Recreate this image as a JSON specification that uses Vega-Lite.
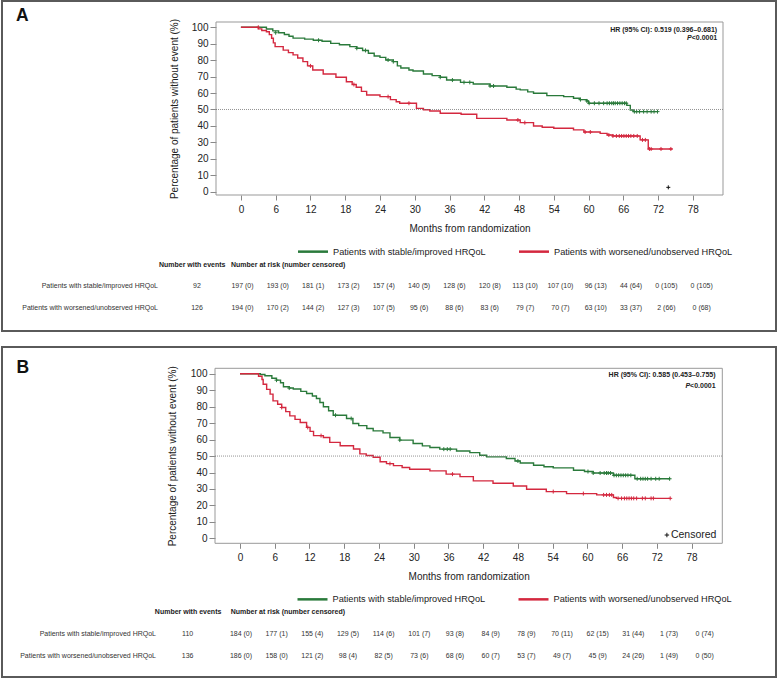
{
 "$schema": "https://vega.github.io/schema/vega-lite/v6.json",
 "padding": {"left": 1, "top": 0, "right": 0, "bottom": 0},
 "config": {"font": "Liberation Sans", "concat": {"spacing": 14}, "text": {"font": "Liberation Sans"}, "axis": {"labelOverlap": false, "labelBound": false}},
 "datasets": {
  "km": [
   {"p":"A","g":"S","m":0,"s":100},{"p":"A","g":"S","m":4.4,"s":98.9},{"p":"A","g":"S","m":5.5,"s":97.8},{"p":"A","g":"S","m":6.5,"s":96.7},{"p":"A","g":"S","m":7.5,"s":95.6},{"p":"A","g":"S","m":8.3,"s":94.5},{"p":"A","g":"S","m":9.0,"s":93.4},{"p":"A","g":"S","m":11,"s":92.8},{"p":"A","g":"S","m":12.5,"s":92.1},{"p":"A","g":"S","m":14,"s":91.5},{"p":"A","g":"S","m":15.5,"s":90.2},{"p":"A","g":"S","m":17,"s":89.4},{"p":"A","g":"S","m":18.8,"s":88.2},{"p":"A","g":"S","m":20,"s":87.2},{"p":"A","g":"S","m":21,"s":85.9},{"p":"A","g":"S","m":22,"s":84.2},{"p":"A","g":"S","m":23,"s":82.5},{"p":"A","g":"S","m":24,"s":81.7},{"p":"A","g":"S","m":25,"s":80.1},{"p":"A","g":"S","m":26.3,"s":79.1},{"p":"A","g":"S","m":27,"s":76.5},{"p":"A","g":"S","m":27.6,"s":75.2},{"p":"A","g":"S","m":29,"s":74},{"p":"A","g":"S","m":29.7,"s":73.4},{"p":"A","g":"S","m":31.5,"s":71.6},{"p":"A","g":"S","m":33,"s":70.6},{"p":"A","g":"S","m":34.4,"s":69.6},{"p":"A","g":"S","m":35.5,"s":67.9},{"p":"A","g":"S","m":37.9,"s":66.5},{"p":"A","g":"S","m":40.1,"s":65.5},{"p":"A","g":"S","m":43,"s":64.3},{"p":"A","g":"S","m":45.9,"s":63.5},{"p":"A","g":"S","m":47.5,"s":62.4},{"p":"A","g":"S","m":48.2,"s":61.9},{"p":"A","g":"S","m":49.5,"s":60.7},{"p":"A","g":"S","m":50.5,"s":59.9},{"p":"A","g":"S","m":52.8,"s":58.4},{"p":"A","g":"S","m":55.7,"s":57.8},{"p":"A","g":"S","m":57.4,"s":56.8},{"p":"A","g":"S","m":58.5,"s":56.0},{"p":"A","g":"S","m":59.7,"s":55.2},{"p":"A","g":"S","m":60,"s":53.8},{"p":"A","g":"S","m":66.6,"s":52.5},{"p":"A","g":"S","m":67.2,"s":49.7},{"p":"A","g":"S","m":67.7,"s":48.7},{"p":"A","g":"S","m":71.9,"s":48.7},
   {"p":"A","g":"W","m":0,"s":100},{"p":"A","g":"W","m":3.0,"s":99},{"p":"A","g":"W","m":3.6,"s":98},{"p":"A","g":"W","m":4.4,"s":97.3},{"p":"A","g":"W","m":4.9,"s":95.5},{"p":"A","g":"W","m":5.3,"s":93.3},{"p":"A","g":"W","m":5.6,"s":90.5},{"p":"A","g":"W","m":5.9,"s":88.2},{"p":"A","g":"W","m":7.3,"s":86.1},{"p":"A","g":"W","m":8.2,"s":84.6},{"p":"A","g":"W","m":9.0,"s":83.2},{"p":"A","g":"W","m":9.8,"s":81.3},{"p":"A","g":"W","m":10.7,"s":79.1},{"p":"A","g":"W","m":11.5,"s":76.5},{"p":"A","g":"W","m":12.4,"s":74},{"p":"A","g":"W","m":14.2,"s":71.6},{"p":"A","g":"W","m":16.4,"s":69.6},{"p":"A","g":"W","m":18.2,"s":66.9},{"p":"A","g":"W","m":19.2,"s":65.2},{"p":"A","g":"W","m":19.9,"s":63.5},{"p":"A","g":"W","m":20.8,"s":61},{"p":"A","g":"W","m":21.7,"s":58.8},{"p":"A","g":"W","m":24,"s":57.8},{"p":"A","g":"W","m":25.8,"s":56.0},{"p":"A","g":"W","m":26.8,"s":54.7},{"p":"A","g":"W","m":27.4,"s":53.8},{"p":"A","g":"W","m":30.3,"s":50.7},{"p":"A","g":"W","m":31.5,"s":49.8},{"p":"A","g":"W","m":32.6,"s":49.1},{"p":"A","g":"W","m":34.4,"s":47.7},{"p":"A","g":"W","m":38,"s":47.1},{"p":"A","g":"W","m":40.7,"s":44.6},{"p":"A","g":"W","m":45.9,"s":43.6},{"p":"A","g":"W","m":48.2,"s":42.0},{"p":"A","g":"W","m":50.5,"s":40.0},{"p":"A","g":"W","m":52,"s":39.2},{"p":"A","g":"W","m":54,"s":38.6},{"p":"A","g":"W","m":57.4,"s":37.6},{"p":"A","g":"W","m":59.2,"s":36.3},{"p":"A","g":"W","m":62,"s":35.5},{"p":"A","g":"W","m":63.2,"s":34.5},{"p":"A","g":"W","m":64.2,"s":33.9},{"p":"A","g":"W","m":68.9,"s":31.5},{"p":"A","g":"W","m":70.3,"s":26.0},{"p":"A","g":"W","m":74.5,"s":26.0},
   {"p":"B","g":"S","m":0,"s":100},{"p":"B","g":"S","m":3.5,"s":99.5},{"p":"B","g":"S","m":4.3,"s":98.8},{"p":"B","g":"S","m":5.5,"s":97.3},{"p":"B","g":"S","m":6.3,"s":96.1},{"p":"B","g":"S","m":7,"s":94.5},{"p":"B","g":"S","m":7.5,"s":92.1},{"p":"B","g":"S","m":8.5,"s":91.3},{"p":"B","g":"S","m":9.2,"s":90.7},{"p":"B","g":"S","m":10.5,"s":89.3},{"p":"B","g":"S","m":11.5,"s":88},{"p":"B","g":"S","m":12.5,"s":86.5},{"p":"B","g":"S","m":13.2,"s":85},{"p":"B","g":"S","m":13.8,"s":82.5},{"p":"B","g":"S","m":14.4,"s":79.9},{"p":"B","g":"S","m":15.3,"s":77.5},{"p":"B","g":"S","m":16.1,"s":74.8},{"p":"B","g":"S","m":18.4,"s":72.8},{"p":"B","g":"S","m":19.5,"s":69.8},{"p":"B","g":"S","m":20.5,"s":68.5},{"p":"B","g":"S","m":21.9,"s":66.7},{"p":"B","g":"S","m":23,"s":65.3},{"p":"B","g":"S","m":24.7,"s":64.1},{"p":"B","g":"S","m":25.9,"s":61.3},{"p":"B","g":"S","m":27.6,"s":59.7},{"p":"B","g":"S","m":29.9,"s":57.6},{"p":"B","g":"S","m":31.5,"s":56.2},{"p":"B","g":"S","m":32.8,"s":55.2},{"p":"B","g":"S","m":34.5,"s":54.2},{"p":"B","g":"S","m":37.4,"s":53.1},{"p":"B","g":"S","m":39.7,"s":52.1},{"p":"B","g":"S","m":41.4,"s":50.5},{"p":"B","g":"S","m":42.6,"s":49.5},{"p":"B","g":"S","m":46,"s":48.5},{"p":"B","g":"S","m":47.5,"s":47},{"p":"B","g":"S","m":48.4,"s":45.8},{"p":"B","g":"S","m":50.7,"s":44.4},{"p":"B","g":"S","m":52.5,"s":43.5},{"p":"B","g":"S","m":54.1,"s":42.8},{"p":"B","g":"S","m":57.6,"s":41.4},{"p":"B","g":"S","m":59.5,"s":40.6},{"p":"B","g":"S","m":61,"s":39.7},{"p":"B","g":"S","m":64.5,"s":38.3},{"p":"B","g":"S","m":68.2,"s":36.2},{"p":"B","g":"S","m":74.3,"s":36.2},
   {"p":"B","g":"W","m":0,"s":100},{"p":"B","g":"W","m":3.2,"s":98.5},{"p":"B","g":"W","m":3.8,"s":96.5},{"p":"B","g":"W","m":4.0,"s":93.6},{"p":"B","g":"W","m":4.6,"s":90.5},{"p":"B","g":"W","m":5.2,"s":87.6},{"p":"B","g":"W","m":5.7,"s":83.5},{"p":"B","g":"W","m":6.5,"s":81.5},{"p":"B","g":"W","m":7.2,"s":79.5},{"p":"B","g":"W","m":7.9,"s":77},{"p":"B","g":"W","m":8.6,"s":74.4},{"p":"B","g":"W","m":9.5,"s":72.3},{"p":"B","g":"W","m":10.4,"s":70.4},{"p":"B","g":"W","m":11.5,"s":67.4},{"p":"B","g":"W","m":12.1,"s":65},{"p":"B","g":"W","m":12.7,"s":62.4},{"p":"B","g":"W","m":14.4,"s":61.3},{"p":"B","g":"W","m":15.5,"s":58.3},{"p":"B","g":"W","m":17.3,"s":56.3},{"p":"B","g":"W","m":19.6,"s":54.3},{"p":"B","g":"W","m":20.7,"s":51.3},{"p":"B","g":"W","m":21.8,"s":50.3},{"p":"B","g":"W","m":23.0,"s":49.3},{"p":"B","g":"W","m":24.2,"s":46.5},{"p":"B","g":"W","m":25.3,"s":45.4},{"p":"B","g":"W","m":26.5,"s":44.2},{"p":"B","g":"W","m":28,"s":43.0},{"p":"B","g":"W","m":29.3,"s":42.0},{"p":"B","g":"W","m":32.8,"s":41.0},{"p":"B","g":"W","m":35.6,"s":39.0},{"p":"B","g":"W","m":38,"s":37.5},{"p":"B","g":"W","m":40.3,"s":34.9},{"p":"B","g":"W","m":43.7,"s":33.5},{"p":"B","g":"W","m":47.2,"s":31.8},{"p":"B","g":"W","m":49.5,"s":29.8},{"p":"B","g":"W","m":52.9,"s":28.4},{"p":"B","g":"W","m":56.4,"s":27.2},{"p":"B","g":"W","m":61.6,"s":26.4},{"p":"B","g":"W","m":64.5,"s":24.8},{"p":"B","g":"W","m":65,"s":24.3},{"p":"B","g":"W","m":74.3,"s":24.3}
  ],
  "cens": [
   {"p":"A","g":"S","m":6.0,"s":96.7},{"p":"A","g":"S","m":13.4,"s":92.1},{"p":"A","g":"S","m":20,"s":87.2},{"p":"A","g":"S","m":21.5,"s":85.9},{"p":"A","g":"S","m":25.4,"s":80.1},{"p":"A","g":"S","m":26.3,"s":79.1},{"p":"A","g":"S","m":34.4,"s":69.6},{"p":"A","g":"S","m":36.5,"s":67.9},{"p":"A","g":"S","m":38.5,"s":66.5},{"p":"A","g":"S","m":39.5,"s":66.5},{"p":"A","g":"S","m":43,"s":64.3},{"p":"A","g":"S","m":43.6,"s":64.3},{"p":"A","g":"S","m":58.6,"s":56.0},{"p":"A","g":"S","m":59.7,"s":55.2},{"p":"A","g":"S","m":60.1,"s":53.8},{"p":"A","g":"S","m":61,"s":53.8},{"p":"A","g":"S","m":61.8,"s":53.8},{"p":"A","g":"S","m":62.6,"s":53.8},{"p":"A","g":"S","m":63.2,"s":53.8},{"p":"A","g":"S","m":63.6,"s":53.8},{"p":"A","g":"S","m":64,"s":53.8},{"p":"A","g":"S","m":64.3,"s":53.8},{"p":"A","g":"S","m":64.6,"s":53.8},{"p":"A","g":"S","m":65,"s":53.8},{"p":"A","g":"S","m":65.4,"s":53.8},{"p":"A","g":"S","m":65.8,"s":53.8},{"p":"A","g":"S","m":66.2,"s":53.8},{"p":"A","g":"S","m":66.5,"s":53.8},{"p":"A","g":"S","m":67.9,"s":48.7},{"p":"A","g":"S","m":68.3,"s":48.7},{"p":"A","g":"S","m":68.8,"s":48.7},{"p":"A","g":"S","m":69.5,"s":48.7},{"p":"A","g":"S","m":70.1,"s":48.7},{"p":"A","g":"S","m":70.8,"s":48.7},{"p":"A","g":"S","m":71.3,"s":48.7},{"p":"A","g":"S","m":71.9,"s":48.7},
   {"p":"A","g":"W","m":3.0,"s":100},{"p":"A","g":"W","m":12.0,"s":76.5},{"p":"A","g":"W","m":19.5,"s":65.2},{"p":"A","g":"W","m":25.4,"s":57.8},{"p":"A","g":"W","m":29,"s":53.8},{"p":"A","g":"W","m":47.8,"s":43.6},{"p":"A","g":"W","m":49,"s":42.0},{"p":"A","g":"W","m":59.4,"s":36.3},{"p":"A","g":"W","m":60.3,"s":36.3},{"p":"A","g":"W","m":63.5,"s":34.5},{"p":"A","g":"W","m":64.2,"s":33.9},{"p":"A","g":"W","m":64.8,"s":33.9},{"p":"A","g":"W","m":65.3,"s":33.9},{"p":"A","g":"W","m":65.7,"s":33.9},{"p":"A","g":"W","m":66.1,"s":33.9},{"p":"A","g":"W","m":66.5,"s":33.9},{"p":"A","g":"W","m":66.9,"s":33.9},{"p":"A","g":"W","m":67.3,"s":33.9},{"p":"A","g":"W","m":67.8,"s":33.9},{"p":"A","g":"W","m":68.4,"s":33.9},{"p":"A","g":"W","m":69.3,"s":31.5},{"p":"A","g":"W","m":69.8,"s":31.5},{"p":"A","g":"W","m":70.5,"s":26},{"p":"A","g":"W","m":70.8,"s":26},{"p":"A","g":"W","m":72.5,"s":26},{"p":"A","g":"W","m":74.2,"s":26},
   {"p":"B","g":"S","m":6.3,"s":96.1},{"p":"B","g":"S","m":8.5,"s":91.3},{"p":"B","g":"S","m":16.5,"s":74.8},{"p":"B","g":"S","m":19.2,"s":72.8},{"p":"B","g":"S","m":27.6,"s":59.7},{"p":"B","g":"S","m":35.2,"s":54.2},{"p":"B","g":"S","m":35.8,"s":54.2},{"p":"B","g":"S","m":36.3,"s":54.2},{"p":"B","g":"S","m":48,"s":47},{"p":"B","g":"S","m":60.1,"s":40.6},{"p":"B","g":"S","m":61,"s":39.7},{"p":"B","g":"S","m":62.2,"s":39.7},{"p":"B","g":"S","m":62.9,"s":39.7},{"p":"B","g":"S","m":63.3,"s":39.7},{"p":"B","g":"S","m":63.6,"s":39.7},{"p":"B","g":"S","m":64,"s":39.7},{"p":"B","g":"S","m":64.6,"s":38.3},{"p":"B","g":"S","m":65,"s":38.3},{"p":"B","g":"S","m":65.4,"s":38.3},{"p":"B","g":"S","m":65.8,"s":38.3},{"p":"B","g":"S","m":66.2,"s":38.3},{"p":"B","g":"S","m":66.6,"s":38.3},{"p":"B","g":"S","m":67,"s":38.3},{"p":"B","g":"S","m":67.5,"s":38.3},{"p":"B","g":"S","m":68.6,"s":36.2},{"p":"B","g":"S","m":69.2,"s":36.2},{"p":"B","g":"S","m":69.6,"s":36.2},{"p":"B","g":"S","m":70,"s":36.2},{"p":"B","g":"S","m":70.4,"s":36.2},{"p":"B","g":"S","m":71,"s":36.2},{"p":"B","g":"S","m":71.8,"s":36.2},{"p":"B","g":"S","m":72.4,"s":36.2},{"p":"B","g":"S","m":74.2,"s":36.2},
   {"p":"B","g":"W","m":7.2,"s":79.5},{"p":"B","g":"W","m":11.7,"s":67.4},{"p":"B","g":"W","m":14,"s":62.4},{"p":"B","g":"W","m":25.9,"s":45.4},{"p":"B","g":"W","m":36.7,"s":39.0},{"p":"B","g":"W","m":54.1,"s":28.4},{"p":"B","g":"W","m":59.3,"s":27.2},{"p":"B","g":"W","m":62.8,"s":26.4},{"p":"B","g":"W","m":63.3,"s":26.4},{"p":"B","g":"W","m":63.8,"s":26.4},{"p":"B","g":"W","m":64.2,"s":26.4},{"p":"B","g":"W","m":65.3,"s":24.3},{"p":"B","g":"W","m":65.9,"s":24.3},{"p":"B","g":"W","m":66.4,"s":24.3},{"p":"B","g":"W","m":66.8,"s":24.3},{"p":"B","g":"W","m":67.2,"s":24.3},{"p":"B","g":"W","m":67.6,"s":24.3},{"p":"B","g":"W","m":68,"s":24.3},{"p":"B","g":"W","m":68.5,"s":24.3},{"p":"B","g":"W","m":69.5,"s":24.3},{"p":"B","g":"W","m":70,"s":24.3},{"p":"B","g":"W","m":71,"s":24.3},{"p":"B","g":"W","m":71.4,"s":24.3},{"p":"B","g":"W","m":74.3,"s":24.3}
  ],
  "risk": [
   {"p":"A","g":"S","m":0,"t":"197 (0)"},{"p":"A","g":"S","m":6,"t":"193 (0)"},{"p":"A","g":"S","m":12,"t":"181 (1)"},{"p":"A","g":"S","m":18,"t":"173 (2)"},{"p":"A","g":"S","m":24,"t":"157 (4)"},{"p":"A","g":"S","m":30,"t":"140 (5)"},{"p":"A","g":"S","m":36,"t":"128 (6)"},{"p":"A","g":"S","m":42,"t":"120 (8)"},{"p":"A","g":"S","m":48,"t":"113 (10)"},{"p":"A","g":"S","m":54,"t":"107 (10)"},{"p":"A","g":"S","m":60,"t":"96 (13)"},{"p":"A","g":"S","m":66,"t":"44 (64)"},{"p":"A","g":"S","m":72,"t":"0 (105)"},{"p":"A","g":"S","m":78,"t":"0 (105)"},
   {"p":"A","g":"W","m":0,"t":"194 (0)"},{"p":"A","g":"W","m":6,"t":"170 (2)"},{"p":"A","g":"W","m":12,"t":"144 (2)"},{"p":"A","g":"W","m":18,"t":"127 (3)"},{"p":"A","g":"W","m":24,"t":"107 (5)"},{"p":"A","g":"W","m":30,"t":"95 (6)"},{"p":"A","g":"W","m":36,"t":"88 (6)"},{"p":"A","g":"W","m":42,"t":"83 (6)"},{"p":"A","g":"W","m":48,"t":"79 (7)"},{"p":"A","g":"W","m":54,"t":"70 (7)"},{"p":"A","g":"W","m":60,"t":"63 (10)"},{"p":"A","g":"W","m":66,"t":"33 (37)"},{"p":"A","g":"W","m":72,"t":"2 (66)"},{"p":"A","g":"W","m":78,"t":"0 (68)"},
   {"p":"B","g":"S","m":0,"t":"184 (0)"},{"p":"B","g":"S","m":6,"t":"177 (1)"},{"p":"B","g":"S","m":12,"t":"155 (4)"},{"p":"B","g":"S","m":18,"t":"129 (5)"},{"p":"B","g":"S","m":24,"t":"114 (6)"},{"p":"B","g":"S","m":30,"t":"101 (7)"},{"p":"B","g":"S","m":36,"t":"93 (8)"},{"p":"B","g":"S","m":42,"t":"84 (9)"},{"p":"B","g":"S","m":48,"t":"78 (9)"},{"p":"B","g":"S","m":54,"t":"70 (11)"},{"p":"B","g":"S","m":60,"t":"62 (15)"},{"p":"B","g":"S","m":66,"t":"31 (44)"},{"p":"B","g":"S","m":72,"t":"1 (73)"},{"p":"B","g":"S","m":78,"t":"0 (74)"},
   {"p":"B","g":"W","m":0,"t":"186 (0)"},{"p":"B","g":"W","m":6,"t":"158 (0)"},{"p":"B","g":"W","m":12,"t":"121 (2)"},{"p":"B","g":"W","m":18,"t":"98 (4)"},{"p":"B","g":"W","m":24,"t":"82 (5)"},{"p":"B","g":"W","m":30,"t":"73 (6)"},{"p":"B","g":"W","m":36,"t":"68 (6)"},{"p":"B","g":"W","m":42,"t":"60 (7)"},{"p":"B","g":"W","m":48,"t":"53 (7)"},{"p":"B","g":"W","m":54,"t":"49 (7)"},{"p":"B","g":"W","m":60,"t":"45 (9)"},{"p":"B","g":"W","m":66,"t":"24 (26)"},{"p":"B","g":"W","m":72,"t":"1 (49)"},{"p":"B","g":"W","m":78,"t":"0 (50)"}
  ],
  "rows": [
   {"p":"A","g":"S","label":"Patients with stable/improved HRQoL","ev":"92"},
   {"p":"A","g":"W","label":"Patients with worsened/unobserved HRQoL","ev":"126"},
   {"p":"B","g":"S","label":"Patients with stable/improved HRQoL","ev":"110"},
   {"p":"B","g":"W","label":"Patients with worsened/unobserved HRQoL","ev":"136"}
  ]
 },
 "resolve": {"scale": {"color": "independent"}, "legend": {"color": "independent"}},
 "vconcat": [
  {
   "width": 774, "height": 330,
   "view": {"stroke": "#5a5a5a", "strokeWidth": 2},
   "resolve": {"scale": {"x": "independent", "y": "independent"}, "axis": {"x": "independent", "y": "independent"}},
   "layer": [
    {
     "layer": [
      {"data": {"name": "km"}, "transform": [{"filter": "datum.p == 'A'"}],
       "mark": {"type": "line", "interpolate": "step-after", "strokeWidth": 1.4},
       "encoding": {
        "x": {"field": "m", "type": "quantitative", "scale": {"domain": [-4.3, 83.2], "range": [214, 721], "nice": false, "zero": false},
              "axis": {"values": [0,6,12,18,24,30,36,42,48,54,60,66,72,78], "offset": -136, "domain": false, "grid": false, "tickSize": 5, "tickColor": "#888", "labelFontSize": 10, "labelColor": "#222", "labelPadding": 4, "title": "Months from randomization", "titleFontSize": 10, "titleFontWeight": "normal", "titleColor": "#222", "titlePadding": 9}},
        "y": {"field": "s", "type": "quantitative", "scale": {"domain": [-2, 103.2], "range": [194, 21], "nice": false, "zero": false},
              "axis": {"values": [0,10,20,30,40,50,60,70,80,90,100], "tickCount": 11, "labelOverlap": false, "offset": -214, "domain": false, "grid": false, "tickSize": 6, "tickColor": "#888", "labelFontSize": 10, "labelColor": "#222", "labelPadding": 2, "title": "Percentage of patients without event (%)", "titleFontSize": 10, "titleFontWeight": "normal", "titleColor": "#222", "titlePadding": 12}},
        "color": {"field": "g", "type": "nominal", "scale": {"domain": ["S", "W"], "range": ["#2a7a3b", "#d4283f"]},
                  "legend": {"orient": "none", "legendX": 294.5, "legendY": 234, "direction": "horizontal", "title": null, "symbolType": "stroke", "symbolSize": 900, "symbolStrokeWidth": 2.5, "labelFontSize": 9.2, "labelColor": "#222", "labelOffset": 3.5, "columnPadding": 27, "padding": 0, "labelLimit": 300,
                             "labelExpr": "datum.value == 'S' ? 'Patients with stable/improved HRQoL' : 'Patients with worsened/unobserved HRQoL'"}}
       }},
      {"data": {"name": "cens"}, "transform": [{"filter": "datum.p == 'A'"}],
       "mark": {"type": "point", "shape": "M-1,0L1,0M0,-1L0,1", "size": 16, "filled": false, "strokeWidth": 1, "opacity": 1},
       "encoding": {"x": {"field": "m", "type": "quantitative"}, "y": {"field": "s", "type": "quantitative"}, "color": {"field": "g", "type": "nominal", "legend": null}}},
      {"data": {"values": [{}]}, "mark": {"type": "rect", "fill": "transparent", "stroke": "#999", "strokeWidth": 1},
       "encoding": {"x": {"datum": -4.3}, "x2": {"datum": 83.2}, "y": {"datum": -2}, "y2": {"datum": 103.2}}},
      {"data": {"values": [{}]}, "mark": {"type": "rule", "color": "#777", "strokeDash": [1, 1], "strokeWidth": 0.8},
       "encoding": {"x": {"datum": -4.3}, "x2": {"datum": 83.2}, "y": {"datum": 50}}},
      {"data": {"values": [{}]}, "mark": {"type": "text", "text": "HR (95% CI): 0.519 (0.396–0.681)", "align": "right", "baseline": "middle", "fontSize": 7, "fontWeight": "bold", "color": "#222"},
       "encoding": {"x": {"datum": 82.2}, "y": {"datum": 98.3}}},
      {"data": {"values": [{}]}, "mark": {"type": "text", "text": "<0.0001", "align": "right", "baseline": "middle", "fontSize": 7, "fontWeight": "bold", "color": "#222"},
       "encoding": {"x": {"datum": 82.2}, "y": {"datum": 93.3}}},
      {"data": {"values": [{}]}, "mark": {"type": "text", "text": "P", "align": "right", "baseline": "middle", "fontSize": 7, "fontWeight": "bold", "fontStyle": "italic", "dx": -25.5, "color": "#222"},
       "encoding": {"x": {"datum": 82.2}, "y": {"datum": 93.3}}},
      {"data": {"values": [{}]}, "mark": {"type": "point", "shape": "M-1,0L1,0M0,-1L0,1", "size": 16, "filled": false, "strokeWidth": 1, "color": "#111", "opacity": 1},
       "encoding": {"x": {"datum": 73.76}, "y": {"datum": 2.65}}},
      {"data": {"values": [{}]}, "mark": {"type": "text", "text": "A", "align": "left", "baseline": "middle", "fontSize": 17.5, "fontWeight": "bold", "color": "#111"},
       "encoding": {"x": {"datum": -38.8}, "y": {"datum": 106.7}}}
     ]
    },
    {
     "layer": [
      {"data": {"name": "risk"}, "transform": [{"filter": "datum.p == 'A'"}],
       "mark": {"type": "text", "fontSize": 7, "color": "#333", "baseline": "middle"},
       "encoding": {
        "x": {"field": "m", "type": "quantitative", "scale": {"domain": [0, 78], "range": [240.5, 699.7], "nice": false, "zero": false}, "axis": null},
        "y": {"field": "g", "type": "nominal", "scale": {"type": "point", "domain": ["H", "S", "W"], "range": [263.7, 307], "padding": 0}, "axis": null},
        "text": {"field": "t"}}},
      {"data": {"name": "rows"}, "transform": [{"filter": "datum.p == 'A'"}],
       "mark": {"type": "text", "fontSize": 7, "color": "#333", "align": "right", "baseline": "middle"},
       "encoding": {"x": {"datum": -14.35}, "y": {"field": "g", "type": "nominal"}, "text": {"field": "label"}}},
      {"data": {"name": "rows"}, "transform": [{"filter": "datum.p == 'A'"}],
       "mark": {"type": "text", "fontSize": 7, "color": "#333", "baseline": "middle"},
       "encoding": {"x": {"datum": -7.73}, "y": {"field": "g", "type": "nominal"}, "text": {"field": "ev"}}},
      {"data": {"values": [{}]}, "mark": {"type": "text", "text": "Number with events", "fontSize": 7, "fontWeight": "bold", "color": "#222", "baseline": "middle"},
       "encoding": {"x": {"datum": -8.54}, "y": {"datum": "H", "type": "nominal"}}},
      {"data": {"values": [{}]}, "mark": {"type": "text", "text": "Number at risk (number censored)", "fontSize": 7, "fontWeight": "bold", "color": "#222", "align": "left", "baseline": "middle"},
       "encoding": {"x": {"datum": -1.95}, "y": {"datum": "H", "type": "nominal"}}}
     ]
    }
   ]
  },
  {
   "width": 774, "height": 330,
   "view": {"stroke": "#5a5a5a", "strokeWidth": 2},
   "resolve": {"scale": {"x": "independent", "y": "independent"}, "axis": {"x": "independent", "y": "independent"}},
   "layer": [
    {
     "layer": [
      {"data": {"name": "km"}, "transform": [{"filter": "datum.p == 'B'"}],
       "mark": {"type": "line", "interpolate": "step-after", "strokeWidth": 1.4},
       "encoding": {
        "x": {"field": "m", "type": "quantitative", "scale": {"domain": [-4.32, 83.3], "range": [213, 720.3], "nice": false, "zero": false},
              "axis": {"values": [0,6,12,18,24,30,36,42,48,54,60,66,72,78], "offset": -133.7, "domain": false, "grid": false, "tickSize": 5, "tickColor": "#888", "labelFontSize": 10, "labelColor": "#222", "labelPadding": 4, "title": "Months from randomization", "titleFontSize": 10, "titleFontWeight": "normal", "titleColor": "#222", "titlePadding": 9}},
        "y": {"field": "s", "type": "quantitative", "scale": {"domain": [-3, 103.3], "range": [196.3, 21.3], "nice": false, "zero": false},
              "axis": {"values": [0,10,20,30,40,50,60,70,80,90,100], "tickCount": 11, "labelOverlap": false, "offset": -213, "domain": false, "grid": false, "tickSize": 6, "tickColor": "#888", "labelFontSize": 10, "labelColor": "#222", "labelPadding": 2, "title": "Percentage of patients without event (%)", "titleFontSize": 10, "titleFontWeight": "normal", "titleColor": "#222", "titlePadding": 13}},
        "color": {"field": "g", "type": "nominal", "scale": {"domain": ["S", "W"], "range": ["#2a7a3b", "#d4283f"]},
                  "legend": {"orient": "none", "legendX": 294, "legendY": 235.7, "direction": "horizontal", "title": null, "symbolType": "stroke", "symbolSize": 900, "symbolStrokeWidth": 2.5, "labelFontSize": 9.2, "labelColor": "#222", "labelOffset": 3.5, "columnPadding": 27, "padding": 0, "labelLimit": 300,
                             "labelExpr": "datum.value == 'S' ? 'Patients with stable/improved HRQoL' : 'Patients with worsened/unobserved HRQoL'"}}
       }},
      {"data": {"name": "cens"}, "transform": [{"filter": "datum.p == 'B'"}],
       "mark": {"type": "point", "shape": "M-1,0L1,0M0,-1L0,1", "size": 16, "filled": false, "strokeWidth": 1, "opacity": 1},
       "encoding": {"x": {"field": "m", "type": "quantitative"}, "y": {"field": "s", "type": "quantitative"}, "color": {"field": "g", "type": "nominal", "legend": null}}},
      {"data": {"values": [{}]}, "mark": {"type": "rect", "fill": "transparent", "stroke": "#999", "strokeWidth": 1},
       "encoding": {"x": {"datum": -4.32}, "x2": {"datum": 83.3}, "y": {"datum": -3}, "y2": {"datum": 103.3}}},
      {"data": {"values": [{}]}, "mark": {"type": "rule", "color": "#777", "strokeDash": [1, 1], "strokeWidth": 0.8},
       "encoding": {"x": {"datum": -4.32}, "x2": {"datum": 83.3}, "y": {"datum": 50}}},
      {"data": {"values": [{}]}, "mark": {"type": "text", "text": "HR (95% CI): 0.585 (0.453–0.755)", "align": "right", "baseline": "middle", "fontSize": 7, "fontWeight": "bold", "color": "#222"},
       "encoding": {"x": {"datum": 82.14}, "y": {"datum": 99.2}}},
      {"data": {"values": [{}]}, "mark": {"type": "text", "text": "<0.0001", "align": "right", "baseline": "middle", "fontSize": 7, "fontWeight": "bold", "color": "#222"},
       "encoding": {"x": {"datum": 82.14}, "y": {"datum": 92.7}}},
      {"data": {"values": [{}]}, "mark": {"type": "text", "text": "P", "align": "right", "baseline": "middle", "fontSize": 7, "fontWeight": "bold", "fontStyle": "italic", "dx": -25.5, "color": "#222"},
       "encoding": {"x": {"datum": 82.14}, "y": {"datum": 92.7}}},
      {"data": {"values": [{}]}, "mark": {"type": "point", "shape": "M-1,0L1,0M0,-1L0,1", "size": 20, "filled": false, "strokeWidth": 1, "color": "#111", "opacity": 1},
       "encoding": {"x": {"datum": 73.73}, "y": {"datum": 2.03}}},
      {"data": {"values": [{}]}, "mark": {"type": "text", "text": "Censored", "align": "left", "baseline": "middle", "fontSize": 10.5, "color": "#222"},
       "encoding": {"x": {"datum": 74.42}, "y": {"datum": 2.03}}},
      {"data": {"values": [{}]}, "mark": {"type": "text", "text": "B", "align": "left", "baseline": "middle", "fontSize": 17.5, "fontWeight": "bold", "color": "#111"},
       "encoding": {"x": {"datum": -38.6}, "y": {"datum": 103.6}}}
     ]
    },
    {
     "layer": [
      {"data": {"name": "risk"}, "transform": [{"filter": "datum.p == 'B'"}],
       "mark": {"type": "text", "fontSize": 7, "color": "#333", "baseline": "middle"},
       "encoding": {
        "x": {"field": "m", "type": "quantitative", "scale": {"domain": [0, 78], "range": [239, 702.7], "nice": false, "zero": false}, "axis": null},
        "y": {"field": "g", "type": "nominal", "scale": {"type": "point", "domain": ["H", "S", "W"], "range": [265.3, 309.3], "padding": 0}, "axis": null},
        "text": {"field": "t"}}},
      {"data": {"name": "rows"}, "transform": [{"filter": "datum.p == 'B'"}],
       "mark": {"type": "text", "fontSize": 7, "color": "#333", "align": "right", "baseline": "middle"},
       "encoding": {"x": {"datum": -14.3}, "y": {"field": "g", "type": "nominal"}, "text": {"field": "label"}}},
      {"data": {"name": "rows"}, "transform": [{"filter": "datum.p == 'B'"}],
       "mark": {"type": "text", "fontSize": 7, "color": "#333", "baseline": "middle"},
       "encoding": {"x": {"datum": -8.97}, "y": {"field": "g", "type": "nominal"}, "text": {"field": "ev"}}},
      {"data": {"values": [{}]}, "mark": {"type": "text", "text": "Number with events", "fontSize": 7, "fontWeight": "bold", "color": "#222", "baseline": "middle"},
       "encoding": {"x": {"datum": -8.9}, "y": {"datum": "H", "type": "nominal"}}},
      {"data": {"values": [{}]}, "mark": {"type": "text", "text": "Number at risk (number censored)", "fontSize": 7, "fontWeight": "bold", "color": "#222", "align": "left", "baseline": "middle"},
       "encoding": {"x": {"datum": -1.73}, "y": {"datum": "H", "type": "nominal"}}}
     ]
    }
   ]
  }
 ]
}
